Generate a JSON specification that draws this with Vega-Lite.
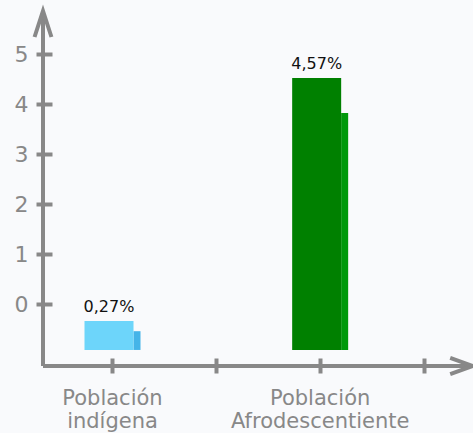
{
  "$schema": "https://vega.github.io/schema/vega-lite/v6.json",
  "width": 430,
  "height": 355,
  "autosize": {"type": "none"},
  "padding": {"left": 43, "top": 11, "right": 0, "bottom": 67},
  "background": "#f9fafc",
  "config": {
    "view": {"stroke": null},
    "locale": {"number": {"decimal": ",", "thousands": ".", "grouping": [3], "currency": ["", "%"]}},
    "font": "DejaVu Sans"
  },
  "data": {
    "values": [
      {"poblacion": "Población indígena", "valor": 0.27, "sombra": 0.09},
      {"poblacion": "Población Afrodescentiente", "valor": 4.57, "sombra": 3.95}
    ]
  },
  "resolve": {"scale": {"x": "independent", "y": "independent"}},
  "layer": [
    {
      "data": {"values": [{}]},
      "layer": [
        {
          "mark": {"type": "rule", "color": "#888888", "strokeWidth": 4},
          "encoding": {
            "x": {"datum": 0, "type": "quantitative", "scale": {"domain": [0, 1], "nice": false, "zero": false}, "axis": null},
            "y": {"datum": 5.86, "type": "quantitative", "scale": {"domain": [-1.24, 5.86], "nice": false, "zero": false},
              "axis": {"orient": "left", "values": [0, 1, 2, 3, 4, 5], "domain": false, "grid": false, "offset": -9, "tickSize": 16, "tickWidth": 4, "tickColor": "#888888", "labelPadding": 8, "labelFontSize": 22, "labelColor": "#888888", "labelFont": "DejaVu Sans", "title": null}},
            "y2": {"datum": -1.24}
          }
        },
        {
          "mark": {"type": "rule", "color": "#888888", "strokeWidth": 4},
          "encoding": {
            "x": {"datum": 0, "type": "quantitative"},
            "x2": {"datum": 1},
            "y": {"datum": -1.24, "type": "quantitative"}
          }
        },
        {
          "mark": {"type": "point", "shape": "M-0.65,2L0,0L0.65,2", "size": 676, "filled": false, "stroke": "#888888", "strokeWidth": 4, "opacity": 1},
          "encoding": {
            "x": {"datum": 0, "type": "quantitative"},
            "y": {"datum": 5.86, "type": "quantitative"}
          }
        },
        {
          "mark": {"type": "point", "shape": "M-1.9,-0.67L0,0L-1.9,0.67", "size": 576, "filled": false, "stroke": "#888888", "strokeWidth": 4, "opacity": 1},
          "encoding": {
            "x": {"datum": 1, "type": "quantitative"},
            "y": {"datum": -1.24, "type": "quantitative"}
          }
        }
      ]
    },
    {
      "layer": [
        {
          "mark": {"type": "bar", "width": 7, "xOffset": 25},
          "encoding": {
            "x": {"field": "poblacion", "type": "nominal",
              "scale": {"type": "point", "domain": ["Población indígena", " ", "Población Afrodescentiente", "  "], "range": [69, 380.5], "padding": 0},
              "axis": {"orient": "bottom", "title": null, "domain": false, "grid": false, "offset": -8, "tickSize": 15, "tickWidth": 4, "tickColor": "#888888", "labelAngle": 0, "labelPadding": 14, "labelFontSize": 21, "labelColor": "#888888", "labelFont": "DejaVu Sans", "labelLineHeight": 23,
                "labelExpr": "datum.value == 'Población indígena' ? ['Población', 'indígena'] : datum.value == 'Población Afrodescentiente' ? ['Población', 'Afrodescentiente'] : ''"}},
            "y": {"field": "sombra", "type": "quantitative", "scale": {"domain": [-0.526, 5.757], "nice": false, "zero": false}, "axis": null},
            "y2": {"datum": -0.242},
            "fill": {"field": "poblacion", "type": "nominal", "scale": {"domain": ["Población indígena", "Población Afrodescentiente"], "range": ["#45b4e8", "#00990a"]}, "legend": null}
          }
        },
        {
          "mark": {"type": "bar", "width": 49, "xOffset": -3},
          "encoding": {
            "x": {"field": "poblacion", "type": "nominal"},
            "y": {"field": "valor", "type": "quantitative"},
            "y2": {"datum": -0.242},
            "color": {"field": "poblacion", "type": "nominal", "scale": {"domain": ["Población indígena", "Población Afrodescentiente"], "range": ["#6dd5fa", "#008000"]}, "legend": null}
          }
        },
        {
          "mark": {"type": "text", "baseline": "alphabetic", "dy": -9, "xOffset": -3, "fontSize": 16, "color": "#111111", "font": "DejaVu Sans"},
          "encoding": {
            "x": {"field": "poblacion", "type": "nominal"},
            "y": {"field": "valor", "type": "quantitative"},
            "text": {"field": "valor", "type": "quantitative", "format": "$.2f"}
          }
        }
      ]
    }
  ]
}
